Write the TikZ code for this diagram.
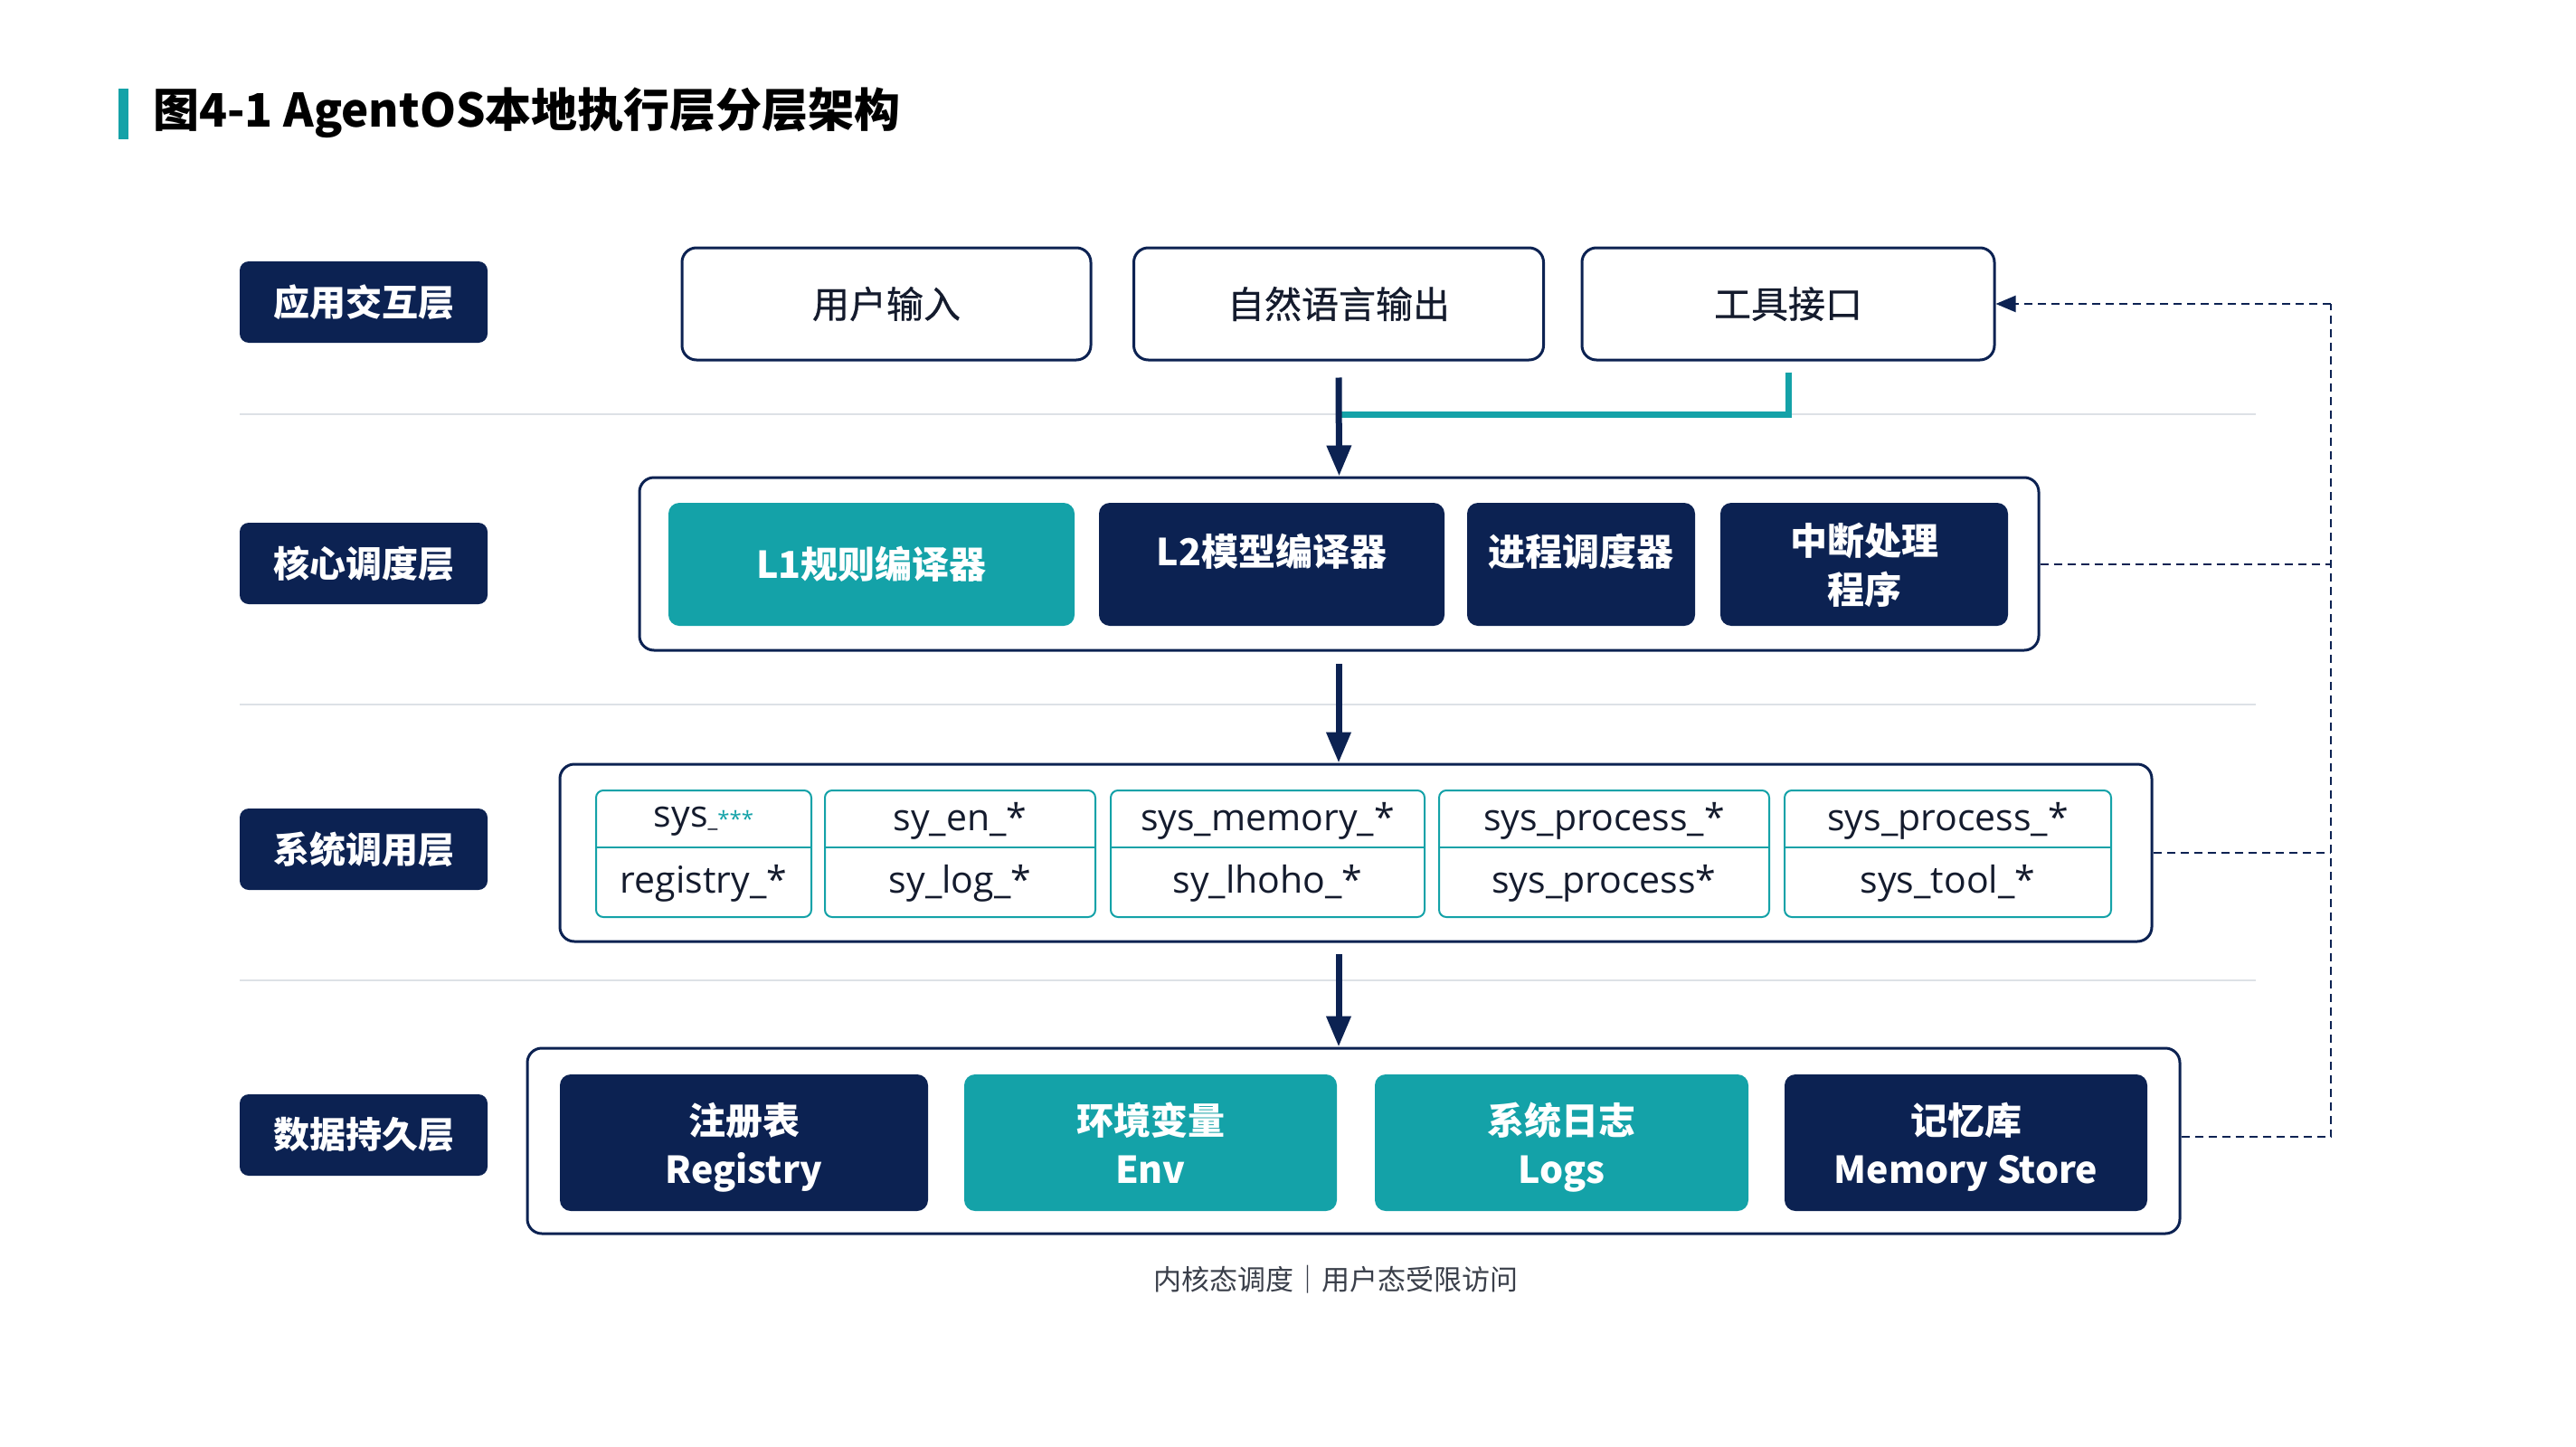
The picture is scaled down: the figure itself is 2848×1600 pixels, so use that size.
\documentclass[tikz,border=0pt]{standalone}
\usepackage{fontspec}
\setmainfont{Noto Sans CJK SC}
\newfontfamily\osans{Open Sans}
\newfontfamily\medfont[FakeBold=0.6]{Noto Sans CJK SC}
\usetikzlibrary{arrows.meta}
\definecolor{navy}{HTML}{0C2252}
\definecolor{tealc}{HTML}{14A2A8}
\definecolor{sepc}{HTML}{DDE1E6}
\definecolor{txtc}{HTML}{141B2D}
\definecolor{capc}{HTML}{3A3F4A}
\newcommand\tallstrutA{\rule{0pt}{52pt}}
\newcommand\tallstrutB{\rule{0pt}{49pt}}
\begin{document}
\begin{tikzpicture}[x=1pt,y=-1pt,
  layerlabel/.style={fill=navy, rounded corners=10pt, minimum width=274pt, minimum height=90pt, inner sep=0pt, text=white, font=\fontsize{40}{48}\selectfont\bfseries},
  appbox/.style={draw=navy, line width=3pt, fill=white, rounded corners=16pt, minimum height=124pt, inner sep=0pt, text=txtc, font=\medfont\fontsize{41}{48}\selectfont},
  container/.style={draw=navy, line width=3pt, fill=white, rounded corners=16pt, inner sep=0pt},
  darkbox/.style={fill=navy, rounded corners=12pt, inner sep=0pt, text=white, align=center, font=\fontsize{41}{54}\selectfont\bfseries},
  tealbox/.style={darkbox, fill=tealc},
  boxtext/.style={inner sep=0pt, text=white, align=center, font=\fontsize{41}{54}\selectfont\bfseries},
  cell/.style={draw=tealc, line width=2pt, fill=white, rounded corners=8pt, minimum height=140pt, inner sep=0pt},
  celltext/.style={text=txtc, font=\osans\fontsize{41}{46}\selectfont, inner sep=0pt},
  flow/.style={draw=navy, line width=7pt, -{Triangle[width=26pt,length=34pt]}},
  feedback/.style={draw=navy, line width=2pt, dash pattern=on 9pt off 6pt},
  sep/.style={draw=sepc, line width=2pt},
]
\fill[white] (0,0) rectangle (2848,1600);
\useasboundingbox (0,0) rectangle (2848,1600);

% title
\node[fill=tealc, minimum width=11pt, minimum height=56pt, inner sep=0pt] (bar) at (136.5,126) {};
\node[anchor=west, inner sep=0pt, text=black, font=\fontsize{51}{58}\selectfont\bfseries] (title) at (169,125) {图4-1 AgentOS本地执行层分层架构};

% separators
\draw[sep] (265,458) -- (2494,458);
\draw[sep] (265,779) -- (2494,779);
\draw[sep] (265,1084) -- (2494,1084);

% layer labels
\node[layerlabel] (lab1) at (402,334) {应用交互层};
\node[layerlabel] (lab2) at (402,623) {核心调度层};
\node[layerlabel] (lab3) at (402,939) {系统调用层};
\node[layerlabel] (lab4) at (402,1255) {数据持久层};

% application layer
\node[appbox, minimum width=452pt] (uin) at (980,336) {用户输入};
\node[appbox, minimum width=453pt] (nlo) at (1480,336) {自然语言输出};
\node[appbox, minimum width=456pt] (tool) at (1977,336) {工具接口};

% core layer
\node[container, minimum width=1547pt, minimum height=191pt] (core) at (1480.5,623.5) {};
\node[tealbox, minimum width=449pt, minimum height=136pt] (l1) at (963.5,624) {L1规则编译器};
\node[darkbox, minimum width=382pt, minimum height=136pt] (l2) at (1406,624) {};
\node[boxtext] (l2t) at ([yshift=14pt]l2.center) {L2模型编译器};
\node[darkbox, minimum width=252pt, minimum height=136pt] (sched) at (1748,624) {};
\node[boxtext] (schedt) at ([yshift=14pt]sched.center) {进程调度器};
\node[darkbox, minimum width=318pt, minimum height=136pt] (intr) at (2061,624) {\tallstrutB 中断处理\strut\\程序\strut};

% system call layer
\node[container, minimum width=1760pt, minimum height=196pt] (sys) at (1499,943) {};
\node[cell, minimum width=238pt] (c1) at (778,944) {};
\node[cell, minimum width=299pt] (c2) at (1061.5,944) {};
\node[cell, minimum width=347pt] (c3) at (1401.5,944) {};
\node[cell, minimum width=365pt] (c4) at (1773.5,944) {};
\node[cell, minimum width=361pt] (c5) at (2153.5,944) {};
\draw[draw=tealc, line width=2pt] (659,937) -- (897,937);
\draw[draw=tealc, line width=2pt] (912,937) -- (1211,937);
\draw[draw=tealc, line width=2pt] (1228,937) -- (1575,937);
\draw[draw=tealc, line width=2pt] (1591,937) -- (1956,937);
\draw[draw=tealc, line width=2pt] (1973,937) -- (2334,937);
\node[celltext] (t1a) at (778,908) {sys{\fontsize{24}{24}\selectfont\_\textcolor{tealc}{***}}};
\node[celltext] (t1b) at (778,977) {registry\_*};
\node[celltext] (t2a) at (1061.5,908) {sy\_en\_*};
\node[celltext] (t2b) at (1061.5,977) {sy\_log\_*};
\node[celltext] (t3a) at (1401.5,908) {sys\_memory\_*};
\node[celltext] (t3b) at (1401.5,977) {sy\_lhoho\_*};
\node[celltext] (t4a) at (1773.5,908) {sys\_process\_*};
\node[celltext] (t4b) at (1773.5,977) {sys\_process*};
\node[celltext] (t5a) at (2153.5,908) {sys\_process\_*};
\node[celltext] (t5b) at (2153.5,977) {sys\_tool\_*};

% data layer
\node[container, minimum width=1827pt, minimum height=205pt] (data) at (1496.5,1261.5) {};
\node[darkbox, minimum width=407pt, minimum height=151pt] (reg) at (822.5,1263.5) {\tallstrutA 注册表\strut\\Registry\strut};
\node[tealbox, minimum width=412pt, minimum height=151pt] (env) at (1272,1263.5) {\tallstrutA 环境变量\strut\\Env\strut};
\node[tealbox, minimum width=413pt, minimum height=151pt] (logs) at (1726.5,1263.5) {\tallstrutA 系统日志\strut\\Logs\strut};
\node[darkbox, minimum width=401pt, minimum height=151pt] (mem) at (2173.5,1263.5) {\tallstrutA 记忆库\strut\\Memory Store\strut};

% caption
\node[text=capc, inner sep=0pt, font=\fontsize{31}{36}\selectfont] (cap) at (1477,1415) {内核态调度｜用户态受限访问};

% main flow
\coordinate (tj) at (1480,458);
\draw[draw=tealc, line width=7pt, line join=miter] ([yshift=-12pt]tool.south) -- (tool.south |- tj) -- (tj);
\draw[flow] ([yshift=-18pt]nlo.south) -- (core.north);
\coordinate (c2s) at (1480,734);
\draw[flow] (c2s) -- (c2s |- sys.north);
\coordinate (c3s) at (1480,1055);
\draw[flow] (c3s) -- (c3s |- data.north);

% feedback
\coordinate (fbtop) at (2577,336);
\coordinate (fbbot) at (2577,1257);
\draw[feedback] (data.east |- fbbot) -- (fbbot) -- (fbtop);
\draw[feedback, -{Triangle[width=18pt,length=22pt]}] (fbtop) -- (tool.east);
\draw[feedback] (core.east) -- (core.east -| fbtop);
\draw[feedback] (sys.east) -- (sys.east -| fbtop);
\end{tikzpicture}
\end{document}
